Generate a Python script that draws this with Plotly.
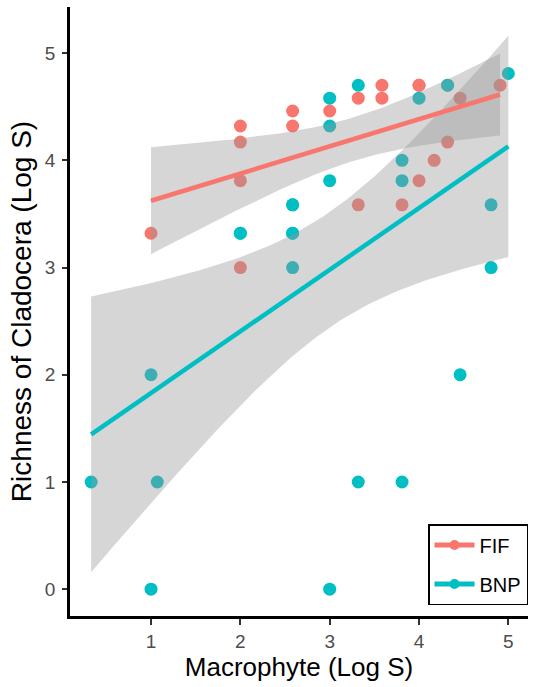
import math
import numpy as np
import plotly.graph_objects as go

# ---- data (log2 richness); last entries are points hidden under identical/overlapping dots ----
fif_x = [1.0, 2.0, 2.0, 2.0, 2.0, 2.585, 2.585, 3.0, 3.32, 3.585, 3.585, 4.0, 4.46, 4.907, 4.32, 4.17, 4.0, 3.32, 3.81,
         4.0, 4.32]
fif_y = [3.32, 4.32, 4.17, 3.81, 3.0, 4.46, 4.32, 4.46, 4.58, 4.70, 4.58, 4.70, 4.58, 4.70, 4.17, 4.0, 3.81, 3.585, 3.585,
         4.70, 4.70]

bnp_x = [0.33, 1.0, 1.07, 1.0, 2.585, 2.0, 2.585, 2.585, 3.0, 3.0, 3.0, 3.32, 4.0, 4.32, 5.0, 3.81, 3.81, 4.807, 4.807,
         4.46, 3.32, 3.81, 3.0,
         2.0, 2.585, 2.585]
bnp_y = [1.0, 2.0, 1.0, 0.0, 3.585, 3.32, 3.32, 3.0, 4.58, 4.32, 3.81, 4.70, 4.58, 4.70, 4.81, 4.0, 3.81, 3.585, 3.0,
         2.0, 1.0, 1.0, 0.0,
         3.32, 3.585, 3.32]

groups = ["FIF", "BNP"]
colors = {"FIF": "#F8766D", "BNP": "#00BFC4"}
x_ticks = [1, 2, 3, 4, 5]
y_ticks = [0, 1, 2, 3, 4, 5]


def t_pdf(t, df):
    c = math.gamma((df + 1) / 2) / (math.sqrt(df * math.pi) * math.gamma(df / 2))
    return c * (1 + t * t / df) ** (-(df + 1) / 2)


def t_quantile(p, df):
    grid = np.linspace(0, 10, 20001)
    pdf = t_pdf(grid, df)
    cdf = 0.5 + np.concatenate([[0], np.cumsum((pdf[1:] + pdf[:-1]) / 2 * np.diff(grid))])
    return float(np.interp(p, cdf, grid))


def lm_fit(x, y, n=80):
    x = np.asarray(x, float)
    y = np.asarray(y, float)
    N = len(x)
    b, a = np.polyfit(x, y, 1)
    res = y - (a + b * x)
    s = math.sqrt(np.sum(res ** 2) / (N - 2))
    xm = x.mean()
    sxx = np.sum((x - xm) ** 2)
    xs = np.linspace(x.min(), x.max(), n)
    yh = a + b * xs
    se = s * np.sqrt(1 / N + (xs - xm) ** 2 / sxx)
    t = t_quantile(0.975, N - 2)
    return xs, yh, yh - t * se, yh + t * se


data = {"FIF": (fif_x, fif_y), "BNP": (bnp_x, bnp_y)}
fig = go.Figure()

# points (drawn below ribbons, as in ggplot)
for g in groups:
    x, y = data[g]
    fig.add_trace(go.Scatter(x=x, y=y, mode="markers", showlegend=False,
                             marker=dict(color=colors[g], size=13, line=dict(width=0)),
                             hoverinfo="skip"))

fits = {g: lm_fit(*data[g]) for g in groups}

# ribbons
for g in groups:
    xs, yh, lo, hi = fits[g]
    fig.add_trace(go.Scatter(x=np.concatenate([xs, xs[::-1]]),
                             y=np.concatenate([hi, lo[::-1]]),
                             fill="toself", fillcolor="rgba(153,153,153,0.4)",
                             line=dict(width=0), mode="lines", showlegend=False,
                             hoverinfo="skip"))

# fit lines
for g in groups:
    xs, yh, lo, hi = fits[g]
    fig.add_trace(go.Scatter(x=xs, y=yh, mode="lines", showlegend=False,
                             line=dict(color=colors[g], width=4.5), hoverinfo="skip"))

# legend entries
for g in groups:
    fig.add_trace(go.Scatter(x=[None], y=[None], mode="lines+markers", name=g,
                             legendgroup=g,
                             line=dict(color=colors[g], width=5),
                             marker=dict(color=colors[g], size=10)))

font = "Liberation Sans, Arial, sans-serif"
fig.update_layout(
    width=533, height=687,
    margin=dict(l=70, r=5, t=7, b=71),
    paper_bgcolor="white", plot_bgcolor="white",
    font=dict(family=font, color="black"),
    showlegend=True,
    legend=dict(x=1.0, y=0.018, xanchor="right", yanchor="bottom",
                bordercolor="black", borderwidth=1.5, bgcolor="white",
                font=dict(size=20, family=font, color="black"),
                tracegroupgap=10, itemwidth=40),
    xaxis=dict(range=[0.093, 5.22], tickvals=x_ticks, ticktext=[str(v) for v in x_ticks],
               showgrid=False, zeroline=False, showline=True, linecolor="black", linewidth=2.5,
               ticks="outside", ticklen=6, tickwidth=2, tickcolor="#333333",
               ticklabelstandoff=0,
               tickfont=dict(size=19, color="#4D4D4D", family=font),
               title=dict(text="Macrophyte (Log S)", font=dict(size=26, family=font, color="black"),
                          standoff=6)),
    yaxis=dict(range=[-0.25, 5.43], tickvals=y_ticks, ticktext=[str(v) for v in y_ticks],
               showgrid=False, zeroline=False, showline=True, linecolor="black", linewidth=2.5,
               ticks="outside", ticklen=5, tickwidth=2, tickcolor="#333333",
               ticklabelstandoff=3,
               tickfont=dict(size=19, color="#4D4D4D", family=font),
               title=dict(text="Richness of Cladocera (Log S)", font=dict(size=28, family=font, color="black"),
                          standoff=6)),
)

fig.write_html("out.html")
